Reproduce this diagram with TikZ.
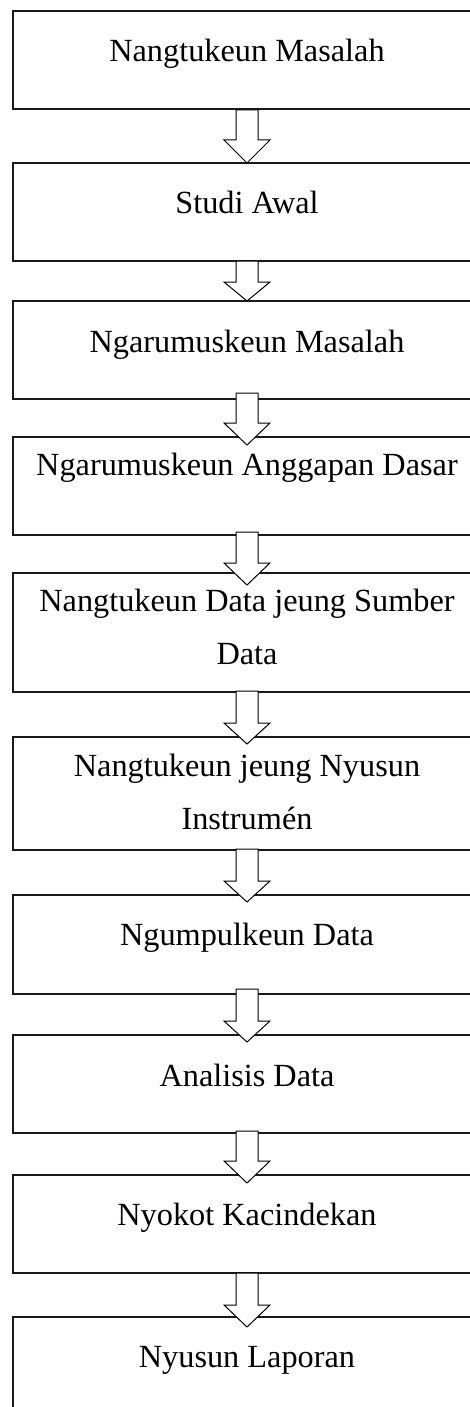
\documentclass[tikz,border=0pt]{standalone}
\usepackage{fontspec}
\setmainfont{Liberation Serif}
\begin{document}
\begin{tikzpicture}[x=1pt,y=-1pt,
  box/.style={draw=black!90, line width=1.6pt, fill=white, rectangle, inner sep=0pt, anchor=north west, minimum width=490pt},
  lbl/.style={font=\fontsize{32.3}{53}\selectfont, inner sep=0pt, anchor=base, align=center},
  barrow/.style={draw=black, line width=1pt, fill=white, line join=miter}
]
\useasboundingbox (0,0) rectangle (470,1407);
\clip (0,0) rectangle (470,1407);
\fill[white] (0,0) rectangle (470,1407);

\newcommand\blockarrow[3]{%
  \draw[barrow] (236,#1) -- (258,#1) -- (258,#2) -- (270,#2) -- (247,#3) -- (224,#2) -- (236,#2) -- cycle;}

% boxes
\node[box, minimum height=98pt]  (b1)  at (12,10)   {};
\node[box, minimum height=98pt]  (b2)  at (12,162)  {};
\node[box, minimum height=98pt]  (b3)  at (12,300)  {};
\node[box, minimum height=98pt]  (b4)  at (12,436)  {};
\node[box, minimum height=119pt] (b5)  at (12,572)  {};
\node[box, minimum height=113pt] (b6)  at (12,736)  {};
\node[box, minimum height=99pt]  (b7)  at (12,894)  {};
\node[box, minimum height=98pt]  (b8)  at (12,1034) {};
\node[box, minimum height=98pt]  (b9)  at (12,1174) {};
\node[box, minimum height=120pt] (b10) at (12,1316) {};

% labels
\node[lbl] (t1)  at (247,62)   {Nangtukeun Masalah};
\node[lbl] (t2)  at (247,213)  {Studi Awal};
\node[lbl] (t3)  at (247,352)  {Ngarumuskeun Masalah};
\node[lbl] (t4)  at (247,475)  {Ngarumuskeun Anggapan Dasar};
\node[lbl] (t5)  at (247,664)  {Nangtukeun Data jeung Sumber\\Data};
\node[lbl] (t6)  at (247,829)  {Nangtukeun jeung Nyusun\\Instrumén};
\node[lbl] (t7)  at (247,945)  {Ngumpulkeun Data};
\node[lbl] (t8)  at (247,1086) {Analisis Data};
\node[lbl] (t9)  at (247,1225) {Nyokot Kacindekan};
\node[lbl] (t10) at (247,1367) {Nyusun Laporan};

% block arrows
\blockarrow{110}{140}{163}
\blockarrow{261}{282}{301}
\blockarrow{393}{423}{445}
\blockarrow{532}{563}{585}
\blockarrow{691}{723}{744}
\blockarrow{849}{881}{902}
\blockarrow{989}{1021}{1042}
\blockarrow{1131}{1161}{1183}
\blockarrow{1273}{1305}{1327}
\end{tikzpicture}
\end{document}
